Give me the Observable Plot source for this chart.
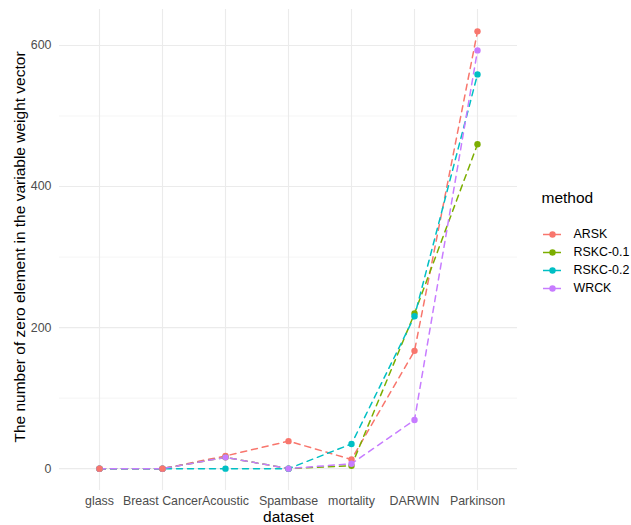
<!DOCTYPE html>
<html>
<head>
<meta charset="utf-8">
<script src="https://cdn.jsdelivr.net/npm/d3@7"></script>
<script src="https://cdn.jsdelivr.net/npm/@observablehq/plot@0.6"></script>
<style>
  html, body { margin: 0; padding: 0; background: #fff; }
  #wrap { position: relative; width: 631px; height: 525px; }
  #legend { position: absolute; left: 536px; top: 185px; }
</style>
</head>
<body>
<div id="wrap"><div id="chart"></div><div id="legend"></div></div>
<script>
const datasets = ["glass", "Breast Cancer", "Acoustic", "Spambase", "mortality", "DARWIN", "Parkinson"];
const methods = ["ARSK", "RSKC-0.1", "RSKC-0.2", "WRCK"];
const arsk   = [0, 0, 18, 39, 13, 167, 620];
const rskc01 = [0, 0, 16, 0, 4, 220, 460];
const rskc02 = [0, 0, 0, 0, 35, 216, 559];
const wrck   = [0, 0, 16, 0, 7, 69, 593];
const colors = ["#F8766D", "#7CAE00", "#00BFC4", "#C77CFF"];
const yTicks = [0, 200, 400, 600];
const yMinor = [100, 300, 500];
const xTitle = "dataset";
const yTitle = "The number of zero element in the variable weight vector";
const legendTitle = "method";

const series = [arsk, rskc01, rskc02, wrck];
const rows = [];
methods.forEach((m, i) => datasets.forEach((d, j) => rows.push({method: m, dataset: d, value: series[i][j]})));
// point draw order: ARSK on top at the first two datasets
const dots = rows.slice().sort((a, b) => {
  const key = r => (datasets.indexOf(r.dataset) < 2 && r.method === "ARSK") ? 1 : 0;
  return key(a) - key(b);
});

const font = "'Liberation Sans', Arial, Helvetica, sans-serif";
const color = {domain: methods, range: colors};

const chart = Plot.plot({
  width: 631,
  height: 525,
  marginLeft: 59,
  marginRight: 114,
  marginTop: 9,
  marginBottom: 35,
  style: {fontFamily: font, background: "#fff", overflow: "visible"},
  x: {type: "point", domain: datasets, padding: 0.6, label: null},
  y: {domain: [-31, 651], label: null},
  color,
  marks: [
    Plot.gridY(yMinor, {stroke: "#EBEBEB", strokeOpacity: 1, strokeWidth: 0.55}),
    Plot.gridY(yTicks, {stroke: "#EBEBEB", strokeOpacity: 1, strokeWidth: 1.1}),
    Plot.gridX(datasets, {stroke: "#EBEBEB", strokeOpacity: 1, strokeWidth: 1.1}),
    Plot.axisY({ticks: yTicks, tickSize: 0, tickPadding: 8, fontSize: 12.4, fill: "#4D4D4D", label: null}),
    Plot.axisX({tickSize: 0, tickPadding: 6, fontSize: 12.4, fill: "#4D4D4D", label: null}),
    Plot.line(rows, {x: "dataset", y: "value", z: "method", stroke: "method", strokeWidth: 1.5, strokeDasharray: "6,5"}),
    Plot.dot(dots, {x: "dataset", y: "value", fill: "method", r: 3.2}),
    Plot.text([xTitle], {frameAnchor: "bottom", dy: 27, textAnchor: "middle", lineAnchor: "middle", fontSize: 15.5, fill: "#000"}),
    Plot.text([yTitle], {frameAnchor: "left", dx: -39, dy: -3, rotate: -90, textAnchor: "middle", lineAnchor: "middle", fontSize: 15.5, fill: "#000"})
  ]
});
document.getElementById("chart").appendChild(chart);

const legend = Plot.plot({
  width: 95,
  height: 135,
  margin: 0,
  style: {fontFamily: font, background: "transparent", overflow: "visible"},
  x: {domain: [0, 1], range: [7, 25], axis: null},
  y: {type: "point", domain: methods, range: [38, 113], axis: null},
  color,
  marks: [
    Plot.ruleY(methods, {y: d => d, x1: 0, x2: 1, stroke: d => d, strokeWidth: 1.5}),
    Plot.dot(methods, {x: 0.5, y: d => d, fill: d => d, r: 3.2}),
    Plot.text(methods, {x: 1, y: d => d, text: d => d, dx: 12, textAnchor: "start", fontSize: 12.4, fill: "#000"}),
    Plot.text([legendTitle], {frameAnchor: "top-left", dx: 5, dy: 13, textAnchor: "start", lineAnchor: "middle", fontSize: 15.5, fill: "#000"})
  ]
});
document.getElementById("legend").appendChild(legend);
</script>
</body>
</html>
